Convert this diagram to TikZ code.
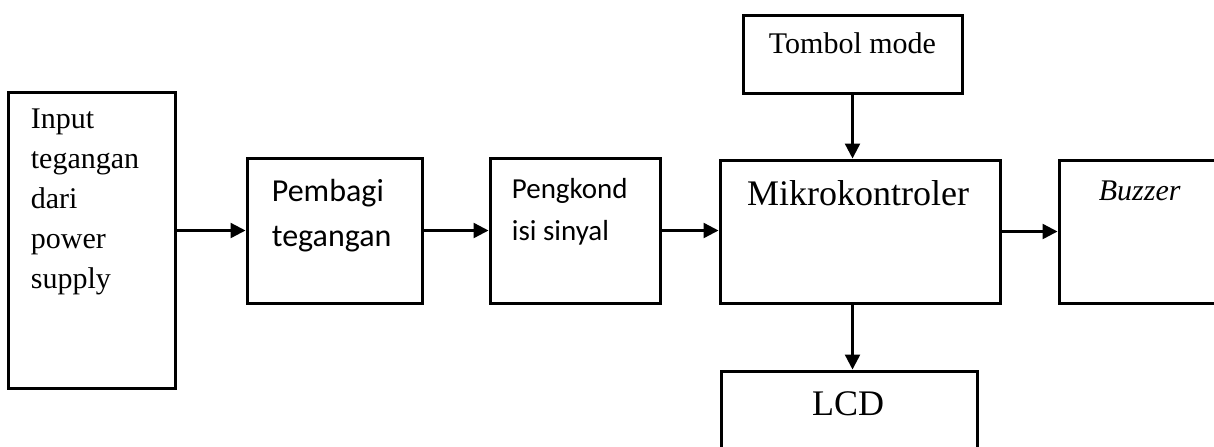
\documentclass[tikz,border=0pt]{standalone}
\usepackage{fontspec}
\setmainfont{Liberation Serif}
\newfontfamily\calibri{Carlito}
\usetikzlibrary{arrows.meta,positioning}
\tikzset{
  block/.style={draw, line width=1.5pt, inner sep=0pt, rectangle},
  txt/.style={inner sep=0pt, align=left},
  arrow/.style={-{Triangle[length=7.5pt, width=7.5pt]}, line width=1.2pt}
}
\begin{document}
\begin{tikzpicture}[x=0.5pt, y=-0.5pt]
\useasboundingbox (0,0) rectangle (1214,446);
\clip (0,0) rectangle (1214,446);
% boxes
\node[block, minimum width=83.5pt, minimum height=148pt] (inp) at (91.5,240) {};
\node[block, minimum width=87.5pt, minimum height=72.5pt] (bagi) at (334.5,230.5) {};
\node[block, minimum width=85pt, minimum height=72.5pt] (kond) at (575,230.5) {};
\node[block, minimum width=140pt, minimum height=71.5pt] (mcu) at (860,231.5) {};
\node[block, minimum width=90pt, minimum height=71.5pt] (buzz) at (1149,231.5) {};
\node[block, minimum width=109.5pt, minimum height=39pt] (tombol) at (852.5,54) {};
\node[block, minimum width=128pt, minimum height=50pt] (lcd) at (849,421) {};
% texts (base = last line)
\node[txt, anchor=base west, font=\fontsize{15}{20}\selectfont] (inptxt) at ([xshift=12pt, yshift=-99pt]inp.north west) {Input\\tegangan\\dari\\power\\supply};
\node[txt, anchor=base west, font=\calibri\fontsize{16}{22.5}\selectfont] (bagitxt) at ([xshift=13pt, yshift=-45pt]bagi.north west) {Pembagi\\tegangan};
\node[txt, anchor=base west, font=\calibri\fontsize{14.5}{21}\selectfont] (kondtxt) at ([xshift=11.5pt, yshift=-42pt]kond.north west) {Pengkond\\isi sinyal};
\node[txt, anchor=base, font=\fontsize{18}{22}\selectfont] (mcutxt) at ([xshift=-1pt, yshift=-23.5pt]mcu.north) {Mikrokontroler};
\node[txt, anchor=base west, font=\itshape\fontsize{15}{18}\selectfont] (buzztxt) at ([xshift=20.5pt, yshift=-21pt]buzz.north west) {Buzzer};
\node[txt, anchor=base, font=\fontsize{15}{18}\selectfont] (tomboltxt) at ([yshift=-20pt]tombol.north) {Tombol mode};
\node[txt, anchor=base, font=\fontsize{18}{22}\selectfont] (lcdtxt) at ([xshift=-0.5pt, yshift=-23pt]lcd.north) {LCD};
% connectors
\draw[arrow] (inp.east |- bagi.west) -- (bagi.west);
\draw[arrow] (bagi.east) -- (kond.west);
\draw[arrow] (kond.east) -- (kond.east -| mcu.west);
\draw[arrow] (mcu.east) -- (buzz.west);
\draw[arrow] (tombol.south) -- (tombol.south |- mcu.north);
\draw[arrow] (tombol.south |- mcu.south) -- (tombol.south |- lcd.north);
\end{tikzpicture}
\end{document}
